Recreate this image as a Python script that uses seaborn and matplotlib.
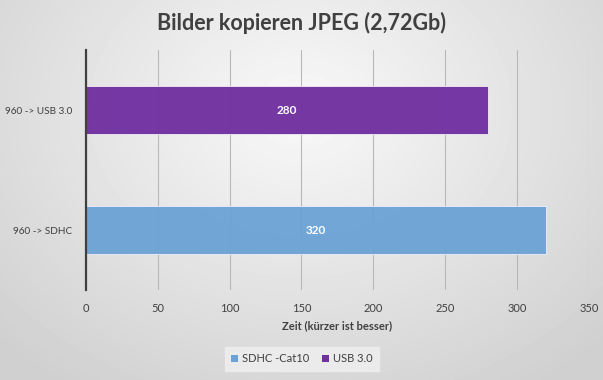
import numpy as np
import pandas as pd
import matplotlib
matplotlib.use("Agg")
import matplotlib.pyplot as plt
import seaborn as sns
from matplotlib.patches import Patch

# ---- data ----
categories = ["960 -> USB 3.0", "960 -> SDHC"]
values = [280, 320]
series = ["USB 3.0", "SDHC -Cat10"]
legend_order = ["SDHC -Cat10", "USB 3.0"]
colors = {"USB 3.0": "#7030A0", "SDHC -Cat10": "#6CA3D6"}
xticks = [0, 50, 100, 150, 200, 250, 300, 350]
title = "Bilder kopieren JPEG (2,72Gb)"
xlabel = "Zeit (kürzer ist besser)"

df = pd.DataFrame({"cat": categories, "val": values, "series": series})

sns.set_theme(style="white")
plt.rcParams["font.family"] = ["Lato", "DejaVu Sans"]

W, H = 603, 380
fig = plt.figure(figsize=(W / 100, H / 100), dpi=100)

# background radial gradient
bg = fig.add_axes([0, 0, 1, 1], zorder=-10)
yy, xx = np.mgrid[0:H, 0:W]
r = np.sqrt(((xx - 300) / 420.0) ** 2 + ((yy - 110) / 330.0) ** 2)
r = np.clip(r, 0, 1)
shade = 0.975 - 0.16 * r
bg.imshow(shade, cmap="gray", vmin=0, vmax=1, aspect="auto", extent=[0, 1, 0, 1])
bg.axis("off")

ax = fig.add_axes([85.8 / W, 1 - 290 / H, (589 - 85.8) / W, (290 - 50) / H])
ax.patch.set_alpha(0)

sns.barplot(data=df, y="cat", x="val", hue="series", palette=colors,
            order=categories, dodge=False, width=0.394, legend=False, ax=ax,
            saturation=1, edgecolor="#f4f0f8", linewidth=0.6, zorder=3)
for p in ax.patches:
    p.set_alpha(0.96)

ax.set_xlim(0, 350)
ax.set_xticks(xticks)
ax.xaxis.grid(True, color="#b8b8b8", linewidth=0.8, zorder=0)
ax.set_axisbelow(True)
for s in ["top", "right", "bottom"]:
    ax.spines[s].set_visible(False)
ax.spines["left"].set_color("#404040")
ax.spines["left"].set_linewidth(1.6)
ax.spines["left"].set_zorder(5)

ax.tick_params(axis="both", length=0, labelsize=8, colors="#404040")
ax.tick_params(axis="y", pad=9.5, labelsize=7.2)
ax.tick_params(axis="x", pad=9)
ax.set_ylabel("")
ax.set_xlabel(xlabel, fontsize=8, fontweight="bold", color="#404040", labelpad=5)

for i, v in enumerate(values):
    ax.text(v / 2, i, str(v), ha="center", va="center", color="white",
            fontsize=8.5, fontweight="bold", zorder=6)

fig.text(0.5, 1 - 23 / H, title, ha="center", va="center", fontsize=15.5,
         fontweight="bold", color="#404040")

handles = [Patch(facecolor=colors[s], edgecolor="none") for s in legend_order]
leg = fig.legend(handles, legend_order, loc="center", bbox_to_anchor=(302 / W, 1 - 359 / H),
                 ncol=2, fontsize=8, frameon=True, handlelength=0.6, handleheight=0.6,
                 handletextpad=0.4, columnspacing=1.1, borderpad=0.55)
leg.get_frame().set_facecolor("#ebebeb")
leg.get_frame().set_edgecolor("#ebebeb")
leg.get_frame().set_alpha(1)
leg.get_frame().set_boxstyle("square", pad=0)
for t in leg.get_texts():
    t.set_color("#404040")

fig.savefig("out.png", dpi=100)
